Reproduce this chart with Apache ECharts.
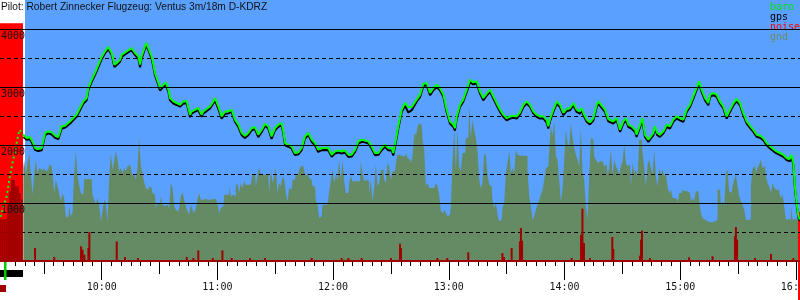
<!DOCTYPE html>
<html>
<head>
<meta charset="utf-8">
<title>Flug D-KDRZ</title>
<script src="https://cdn.jsdelivr.net/npm/echarts@6/dist/echarts.min.js"></script>
<style>
  html, body { margin: 0; padding: 0; background: #fff; }
  #chart { width: 800px; height: 300px; }
</style>
</head>
<body>
<div id="chart"></div>
<script>
// Zeiten in Minuten nach Mitternacht, Hoehen in Metern
const towTime = [547.5, 550.7, 552.4, 554.1, 555.9, 557.3, 559.4];
const towAlt = [760, 1114, 1459, 1747, 2034, 2264, 2178];

const baroTime = [
  559.4, 561.1, 562.8, 564.5, 565.4, 567.1, 568.9, 569.7, 570.6, 572.3, 574.1, 575.8, 577.5, 578.4, 579.2, 581.0,
  583.6, 585.3, 587.0, 588.7, 590.5, 592.2, 593.1, 594.8, 596.5, 598.3, 600.0, 601.7, 603.4, 604.3, 605.2, 606.6,
  607.8, 609.5, 610.4, 612.1, 613.8, 615.5, 617.3, 619.0, 619.9, 620.7, 621.9, 623.0, 624.2, 625.9, 626.8, 627.6,
  628.5, 629.4, 630.2, 632.0, 633.2, 634.6, 635.4, 637.2, 638.9, 640.6, 642.3, 644.1, 644.9, 645.8, 646.7, 648.4,
  650.1, 651.8, 652.7, 654.4, 656.2, 657.9, 658.8, 660.5, 662.2, 664.0, 665.7, 667.4, 669.1, 670.9, 672.6, 674.3,
  676.0, 677.8, 679.5, 681.2, 683.0, 684.7, 686.4, 688.1, 689.9, 691.6, 693.3, 694.2, 695.1, 696.8, 698.5, 700.2,
  702.0, 703.7, 705.4, 707.2, 708.9, 710.6, 712.3, 714.1, 715.8, 717.5, 719.3, 721.0, 722.7, 724.4, 726.2, 727.9,
  729.6, 731.4, 733.1, 734.8, 736.5, 738.3, 740.0, 741.7, 743.5, 745.2, 746.9, 748.6, 750.4, 751.2, 752.1, 753.8,
  755.6, 757.3, 759.0, 760.8, 761.6, 763.3, 765.1, 766.8, 768.5, 770.3, 772.0, 773.7, 775.4, 777.2, 778.9, 780.6,
  782.4, 783.2, 784.1, 785.8, 787.5, 789.3, 791.0, 792.7, 794.5, 796.2, 797.9, 799.6, 801.4, 803.1, 804.8, 806.6,
  808.3, 810.0, 811.7, 813.5, 815.2, 816.9, 818.7, 820.4, 822.1, 823.8, 825.6, 827.3, 829.0, 830.8, 831.6, 832.5,
  834.2, 836.0, 837.7, 839.4, 841.1, 842.9, 844.6, 846.3, 848.0, 848.9, 849.8, 851.5, 853.2, 855.0, 856.7, 857.6,
  859.3, 861.0, 862.7, 863.6, 865.3, 867.1, 868.8, 870.5, 871.9, 873.1, 874.8, 876.6, 877.4, 879.2, 880.4, 881.7,
  883.5, 884.3, 886.1, 886.9, 888.1, 889.5, 891.3, 893.0, 894.7, 896.4, 898.2, 899.9, 901.6, 903.4, 905.1, 906.8,
  908.5, 909.8, 911.1, 912.9, 914.6, 915.5, 917.2, 918.9, 920.6, 922.4, 924.1, 925.8, 927.6, 929.3, 930.2, 931.0,
  932.7, 934.5, 936.2, 937.9, 939.7, 941.4, 943.1, 944.8, 946.6, 948.3, 950.0, 951.8, 953.5, 955.2, 956.9, 957.8,
  958.7, 959.5, 960.4, 961.3, 962.1
];
const baroAlt = [
  2178, 2121, 2138, 2034, 1948, 1931, 1948, 1977, 2207, 2236, 2218, 2161, 2138, 2121, 2322, 2333,
  2408, 2465, 2523, 2638, 2753, 2810, 2983, 3126, 3241, 3385, 3517, 3615, 3690, 3713, 3586, 3385,
  3414, 3471, 3557, 3598, 3632, 3672, 3586, 3529, 3385, 3529, 3644, 3758, 3672, 3529, 3385, 3241,
  3213, 3069, 2983, 3040, 3080, 2954, 2810, 2753, 2724, 2695, 2753, 2753, 2724, 2523, 2580, 2609,
  2638, 2523, 2580, 2621, 2667, 2753, 2810, 2667, 2494, 2580, 2580, 2609, 2437, 2350, 2207, 2161,
  2207, 2293, 2310, 2178, 2264, 2368, 2322, 2149, 2293, 2350, 2379, 2236, 2034, 2006, 1977, 1862,
  1874, 1948, 2149, 2207, 2092, 2034, 1920, 1948, 1948, 1948, 1833, 1891, 1908, 1891, 1908, 1833,
  1833, 1920, 2063, 2092, 2080, 2063, 1977, 1862, 1862, 1948, 2006, 1948, 1948, 1862, 2006, 2322,
  2609, 2724, 2655, 2655, 2621, 2782, 2868, 3057, 3069, 2897, 2983, 3040, 2983, 2868, 2609, 2408,
  2350, 2293, 2494, 2695, 2782, 2954, 3126, 3080, 3098, 2925, 2810, 2885, 2954, 2839, 2724, 2609,
  2523, 2465, 2494, 2506, 2494, 2563, 2695, 2753, 2695, 2580, 2523, 2494, 2494, 2425, 2322, 2448,
  2609, 2753, 2695, 2552, 2621, 2638, 2724, 2609, 2580, 2638, 2552, 2437, 2391, 2465, 2695, 2753,
  2678, 2609, 2448, 2437, 2408, 2465, 2264, 2408, 2465, 2350, 2322, 2264, 2178, 2350, 2465, 2178,
  2092, 2063, 2207, 2322, 2207, 2178, 2236, 2350, 2322, 2437, 2494, 2465, 2437, 2609, 2695, 2839,
  2983, 3098, 2954, 2810, 2724, 2868, 2897, 2868, 2753, 2667, 2494, 2609, 2724, 2793, 2810, 2724,
  2552, 2408, 2333, 2264, 2178, 2161, 2121, 2034, 1977, 1931, 1891, 1862, 1833, 1776, 1759, 1833,
  1690, 1287, 1000, 770, 713
];
const gpsAlt = [
  2140, 2090, 2100, 1995, 1915, 1895, 1910, 1930, 2170, 2200, 2180, 2125, 2100, 2080, 2280, 2300,
  2370, 2430, 2485, 2600, 2715, 2770, 2945, 3090, 3205, 3345, 3480, 3580, 3655, 3680, 3550, 3345,
  3380, 3435, 3520, 3560, 3600, 3635, 3550, 3490, 3340, 3490, 3605, 3720, 3635, 3490, 3345, 3205,
  3175, 3030, 2940, 3005, 3040, 2915, 2770, 2715, 2690, 2660, 2715, 2720, 2690, 2480, 2545, 2575,
  2600, 2485, 2545, 2585, 2630, 2715, 2765, 2620, 2455, 2540, 2545, 2570, 2400, 2310, 2170, 2120,
  2170, 2255, 2275, 2135, 2225, 2330, 2285, 2105, 2255, 2315, 2340, 2195, 1995, 1970, 1940, 1825,
  1840, 1910, 2110, 2170, 2055, 1995, 1880, 1910, 1915, 1910, 1795, 1855, 1870, 1855, 1870, 1795,
  1800, 1880, 2025, 2055, 2045, 2025, 1940, 1825, 1830, 1910, 1970, 1910, 1905, 1820, 1965, 2280,
  2570, 2680, 2560, 2600, 2585, 2745, 2830, 3020, 3030, 2860, 2945, 3000, 2945, 2830, 2570, 2370,
  2310, 2250, 2455, 2655, 2745, 2915, 3085, 3045, 3060, 2885, 2770, 2850, 2915, 2800, 2685, 2570,
  2485, 2425, 2455, 2470, 2455, 2525, 2655, 2715, 2660, 2545, 2485, 2455, 2460, 2385, 2285, 2410,
  2570, 2715, 2655, 2515, 2585, 2600, 2685, 2570, 2540, 2600, 2515, 2400, 2355, 2425, 2655, 2715,
  2640, 2570, 2410, 2400, 2370, 2425, 2225, 2370, 2425, 2310, 2285, 2225, 2140, 2310, 2425, 2140,
  2055, 2025, 2170, 2285, 2170, 2140, 2200, 2310, 2285, 2400, 2455, 2425, 2400, 2570, 2655, 2800,
  2945, 3060, 2915, 2770, 2685, 2830, 2860, 2830, 2715, 2630, 2455, 2570, 2685, 2755, 2770, 2685,
  2515, 2370, 2295, 2225, 2140, 2125, 2085, 1995, 1940, 1895, 1855, 1825, 1795, 1740, 1720, 1795,
  1650, 1250, 970, 740, 690
];

// Gelaendehoehe, gleichmaessig abgetastet
const gndStart = 559.36;
const gndStep = 0.8644;
const gndAlt = [
  1603, 1747, 1488, 1690, 1862, 1517, 1144, 1488, 1747, 1517, 1603, 1575, 1586, 1575, 1546, 1575, 1661, 1632, 1488, 1172,
  1402, 1287, 1172, 1029, 1172, 1086, 770, 741, 943, 770, 828, 1488, 1891, 1460, 1316, 1172, 1144, 1414, 1414, 1414,
  1414, 1414, 1144, 1057, 971, 1086, 971, 684, 856, 1057, 1000, 684, 1402, 1862, 1575, 1718, 1891, 1747, 1546, 1603,
  1517, 1603, 1546, 1632, 1661, 1603, 1460, 1517, 1402, 1603, 2121, 1632, 1517, 1356, 1259, 1230, 1287, 1259, 1172, 1144,
  914, 1000, 971, 1115, 971, 943, 971, 943, 914, 1345, 1259, 943, 885, 856, 914, 1115, 1184, 1057, 943, 856,
  799, 971, 885, 828, 914, 1057, 1172, 1057, 1057, 1069, 1069, 1057, 1057, 1069, 1069,
  1069, 1069, 1000, 828, 914, 943, 1144, 1144, 1144, 1287, 1115, 1144, 1115, 1287, 1345, 1172, 1345, 1259, 1374, 1316,
  1316, 1316, 1316, 1488, 1488, 1287, 1488, 1603, 1488, 1488, 1488, 1517, 1488, 1172, 1575, 1345, 1460, 1603, 1172, 1345,
  1287, 1460, 1402, 1172, 1029, 1259, 1230, 1402, 1402, 1517, 1460, 1575, 1632, 1632, 1546, 1460, 1517, 1431, 1402, 1287,
  1287, 1029, 971, 741, 770, 971, 971, 971, 1000, 1201, 1402, 1575, 1345, 1488, 1402, 1747, 1402, 1747, 1374, 1172,
  1172, 1345, 1460, 1374, 1374, 1374, 1374, 1374, 1718, 1517, 1374, 1402, 1374, 1144, 1402, 1029, 1259, 1661, 1287, 1345,
  1575, 1575, 1402, 1345, 1690, 1632, 1402, 1546, 1546, 1690, 1833, 1833, 1805, 1805, 1805, 1862, 1776,
  1747, 1690, 1805, 2178, 2207, 2322, 2368, 2350, 2092, 1920, 1287, 1345, 1259, 1259, 1259, 1287, 1345, 1287, 1144, 856,
  828, 885, 828, 770, 799, 943, 1718, 2264, 1575, 2264, 1632, 1546, 1862, 1862, 2121, 2121, 2667, 2121, 2437, 2264,
  2121, 1891, 1402, 1259, 1345, 1862, 1805, 1488, 1316, 1287, 1029, 914, 1000, 799, 684, 713, 914, 1000, 1517, 1690,
  1891, 1517, 1603, 1517, 1920, 1833, 1816, 1816, 1816, 1816, 1816, 1546, 1115, 943, 713, 770, 885, 971, 1057, 1144,
  1230, 1402, 1603, 1632, 1920, 2322, 2149, 2408, 1805, 1747, 1402, 1029, 1230, 1747, 2264, 2034, 1948, 2379, 2121, 1948,
  1833, 1747, 1632, 2293, 1517, 1402, 943, 713, 1460, 2121, 2092, 1805, 1747, 1690,
  1718, 1718, 1690, 1632, 1661, 1488, 1603, 1920, 1460, 1747, 1632, 1575, 1488, 1632, 1718, 2006, 1690, 1632, 1661, 1287,
  1690, 1517, 1575, 1431, 2092, 2092, 1862, 1603, 1287, 1661, 1747, 1603, 1488, 1920, 1460, 1287, 1603, 1488, 1575, 1460,
  1517, 1287, 1172, 1230, 1086, 1086, 1057, 971, 1172, 1172, 1230, 1201, 1201, 1230, 1172, 1029, 1086, 1029, 1201, 1201,
  1029, 828, 741, 713, 684, 713, 667, 667, 667, 684, 713, 1230, 1230, 943, 1029, 943, 1517, 1575, 1201, 1172,
  1287, 1402, 1488, 1287, 1115, 1029, 971, 885, 713, 713, 713, 1287, 1603, 1632, 1517, 1603, 1661, 1747, 1603, 1632,
  1460, 1345, 1287, 1172, 1345, 1259, 1230, 1230, 1172, 1086, 1144, 943, 713, 724, 713, 943, 713, 724, 713, 713, 713
];

// Motorgeraeusch (ENL)
const noiseTime = [
  547.5, 548.5, 549.5, 550.5, 551.5, 552.5, 553.5, 554.5, 555.5, 556.5, 557.5, 558.5,
  565.4, 575.4, 589.3, 590.1, 591.0, 593.1, 593.6, 607.8, 612.1, 618.8, 644.1, 647.5, 650.1, 657.6,
  662.6, 667.4, 676.9, 684.7, 708.9, 724.4, 727.9, 734.8, 750.0, 754.7, 755.2,
  774.1, 779.2, 790.1, 807.8, 808.6, 812.6, 816.9, 817.4, 818.0, 843.7, 848.6, 849.3, 850.1, 853.2,
  864.8, 865.3, 879.2, 879.7, 880.2, 884.3, 904.6, 916.8, 928.4, 928.9, 929.5, 938.8, 947.1, 958.7
];
const noiseVal = [
  720, 720, 720, 720, 980, 1200, 1400, 1400, 1290, 1290, 1170, 1060,
  224, 69, 253, 195, 109, 224, 500, 338, 69, 52, 69, 52, 184, 52,
  184, 52, 52, 52, 52, 52, 52, 52, 52, 299, 224,
  52, 52, 149, 138, 69, 224, 339, 569, 350, 52, 454, 902, 310, 52,
  414, 207, 92, 368, 523, 52, 63, 81, 425, 586, 368, 52, 121, 52
];

// Tick-Abstaende in Minuten
const hourTicks = 60;
const halfTicks = 30;
const minorTicks = 5;

const pxPerMin = 1.9283;
const gridLeft = -14;
const axisY = 261;
const xMin = 540, xMax = 1020;
const gridRight = 800 - (gridLeft + (xMax - xMin) * pxPerMin);
const pxToMin = px => xMin + (px - gridLeft) / pxPerMin;
const minToPx = m => gridLeft + (m - xMin) * pxPerMin;

const pairs = (ts, vs) => ts.map((t, i) => [t, vs[i]]);

// kurze 5-Minuten-Striche unter der Zeitachse
const minorTickEls = [];
for (let m = xMin + minorTicks; m < xMax; m += minorTicks) {
  if (m % halfTicks === 0) continue;
  const x = Math.round(minToPx(m)) + 0.5;
  if (x < 0 || x > 800) continue;
  minorTickEls.push({
    type: 'line',
    silent: true,
    shape: { x1: x, y1: axisY, x2: x, y2: axisY + 5 },
    style: { stroke: '#000', lineWidth: 1 }
  });
}

const chart = echarts.init(document.getElementById('chart'));

const option = {
  animation: false,
  title: {
    text: 'Pilot: Robert Zinnecker Flugzeug: Ventus 3m/18m D-KDRZ',
    left: 1,
    top: 2,
    padding: 0,
    textStyle: { fontFamily: 'Liberation Sans', fontSize: 10.2, fontWeight: 'normal', color: '#111' }
  },
  legend: {
    orient: 'vertical',
    left: 765,
    top: 2,
    itemGap: 0,
    itemWidth: 0,
    itemHeight: 10,
    selectedMode: false,
    padding: 0,
    textStyle: { fontFamily: 'DejaVu Sans Mono', fontSize: 10, lineHeight: 10 },
    data: [
      { name: 'baro', icon: 'rect', textStyle: { color: '#00e600' } },
      { name: 'gps', icon: 'rect', textStyle: { color: '#000' } },
      { name: 'noise', icon: 'rect', textStyle: { color: '#ff0000' } },
      { name: 'gnd', icon: 'rect', textStyle: { color: '#6a8c62' } }
    ]
  },
  grid: { left: gridLeft, right: gridRight, top: 0, bottom: 300 - axisY, outerBoundsMode: 'none' },
  xAxis: [
    {
      type: 'value',
      min: xMin,
      max: xMax,
      interval: hourTicks,
      z: 3,
      axisLine: { onZero: false, lineStyle: { color: '#a00000', width: 2 } },
      axisTick: { length: 19, lineStyle: { color: '#000' } },
      splitLine: { show: false },
      axisLabel: {
        margin: 21,
        fontFamily: 'DejaVu Sans Mono',
        fontSize: 10,
        color: '#111',
        formatter: v => (v % 60 === 0 ? Math.floor(v / 60) + ':00' : '')
      }
    },
    {
      type: 'value',
      position: 'bottom',
      min: xMin,
      max: xMax,
      interval: halfTicks,
      axisLine: { show: false, onZero: false },
      axisTick: { length: 13, lineStyle: { color: '#000' } },
      axisLabel: { show: false },
      splitLine: { show: false }
    }
  ],
  yAxis: [
    {
      type: 'value',
      min: 0,
      max: 4500,
      interval: 1000,
      offset: gridLeft,
      z: 5,
      axisLine: { show: false },
      axisTick: { show: false },
      axisLabel: {
        inside: true,
        margin: 1,
        verticalAlign: 'top',
        padding: [2, 0, 0, 0],
        fontFamily: 'DejaVu Sans Mono',
        fontSize: 10,
        color: '#111',
        formatter: v => (v > 0 && v % 1000 === 0 ? String(v) : '')
      },
      splitLine: { show: true, showMinLine: false, showMaxLine: false, lineStyle: { color: '#000', width: 1 } }
    },
    {
      type: 'value',
      position: 'left',
      min: 0,
      max: 4500,
      interval: 500,
      axisLine: { show: false },
      axisTick: { show: false },
      axisLabel: { show: false },
      splitLine: { show: true, showMinLine: false, showMaxLine: false, lineStyle: { color: '#000', width: 1, type: [4, 3] } }
    }
  ],
  series: [
    {
      name: 'bg',
      type: 'line',
      data: [],
      z: -3,
      silent: true,
      markArea: {
        z: -3,
        silent: true,
        label: { show: false },
        data: [
          [{ xAxis: pxToMin(25), yAxis: 0, itemStyle: { color: '#5aa0ff', opacity: 1 } }, { xAxis: xMax, yAxis: 4500 }],
          [{ xAxis: xMin, yAxis: 0, itemStyle: { color: '#ff0000', opacity: 1 } }, { xAxis: pxToMin(23), yAxis: 4100 }]
        ]
      }
    },
    {
      name: 'gnd',
      type: 'line',
      step: 'middle',
      symbol: 'none',
      z: -1,
      color: '#658b65',
      lineStyle: { width: 0 },
      areaStyle: { color: '#658b65', opacity: 1 },
      data: gndAlt.map((v, i) => [gndStart + i * gndStep, v])
    },
    {
      name: 'noise',
      type: 'bar',
      barWidth: 2,
      z: 1,
      itemStyle: { color: '#a00000' },
      data: pairs(noiseTime, noiseVal)
    },
    {
      name: 'gps',
      type: 'line',
      symbol: 'none',
      z: 3,
      color: '#000',
      lineStyle: { color: '#000', width: 2 },
      data: pairs(baroTime, gpsAlt)
    },
    {
      name: 'baro',
      type: 'line',
      symbol: 'none',
      z: 4,
      color: '#00ff00',
      lineStyle: { color: '#00ff00', width: 2, type: [2, 3] },
      data: pairs(towTime, towAlt)
    },
    {
      name: 'baro',
      type: 'line',
      symbol: 'none',
      z: 4,
      color: '#00ff00',
      lineStyle: { color: '#00ff00', width: 2 },
      data: pairs(baroTime, baroAlt)
    }
  ],
  graphic: [
    ...minorTickEls,
    { type: 'rect', shape: { x: 0, y: 270, width: 23, height: 7 }, style: { fill: '#000' } },
    { type: 'rect', shape: { x: 4, y: 262, width: 2.5, height: 18 }, style: { fill: '#00cc00' } },
    { type: 'rect', shape: { x: 0, y: 285, width: 6, height: 7 }, style: { fill: '#a00000' } },
    { type: 'rect', shape: { x: 798, y: 212, width: 2, height: 88 }, style: { fill: '#ff0000' } }
  ]
};

chart.setOption(option);
</script>
</body>
</html>
